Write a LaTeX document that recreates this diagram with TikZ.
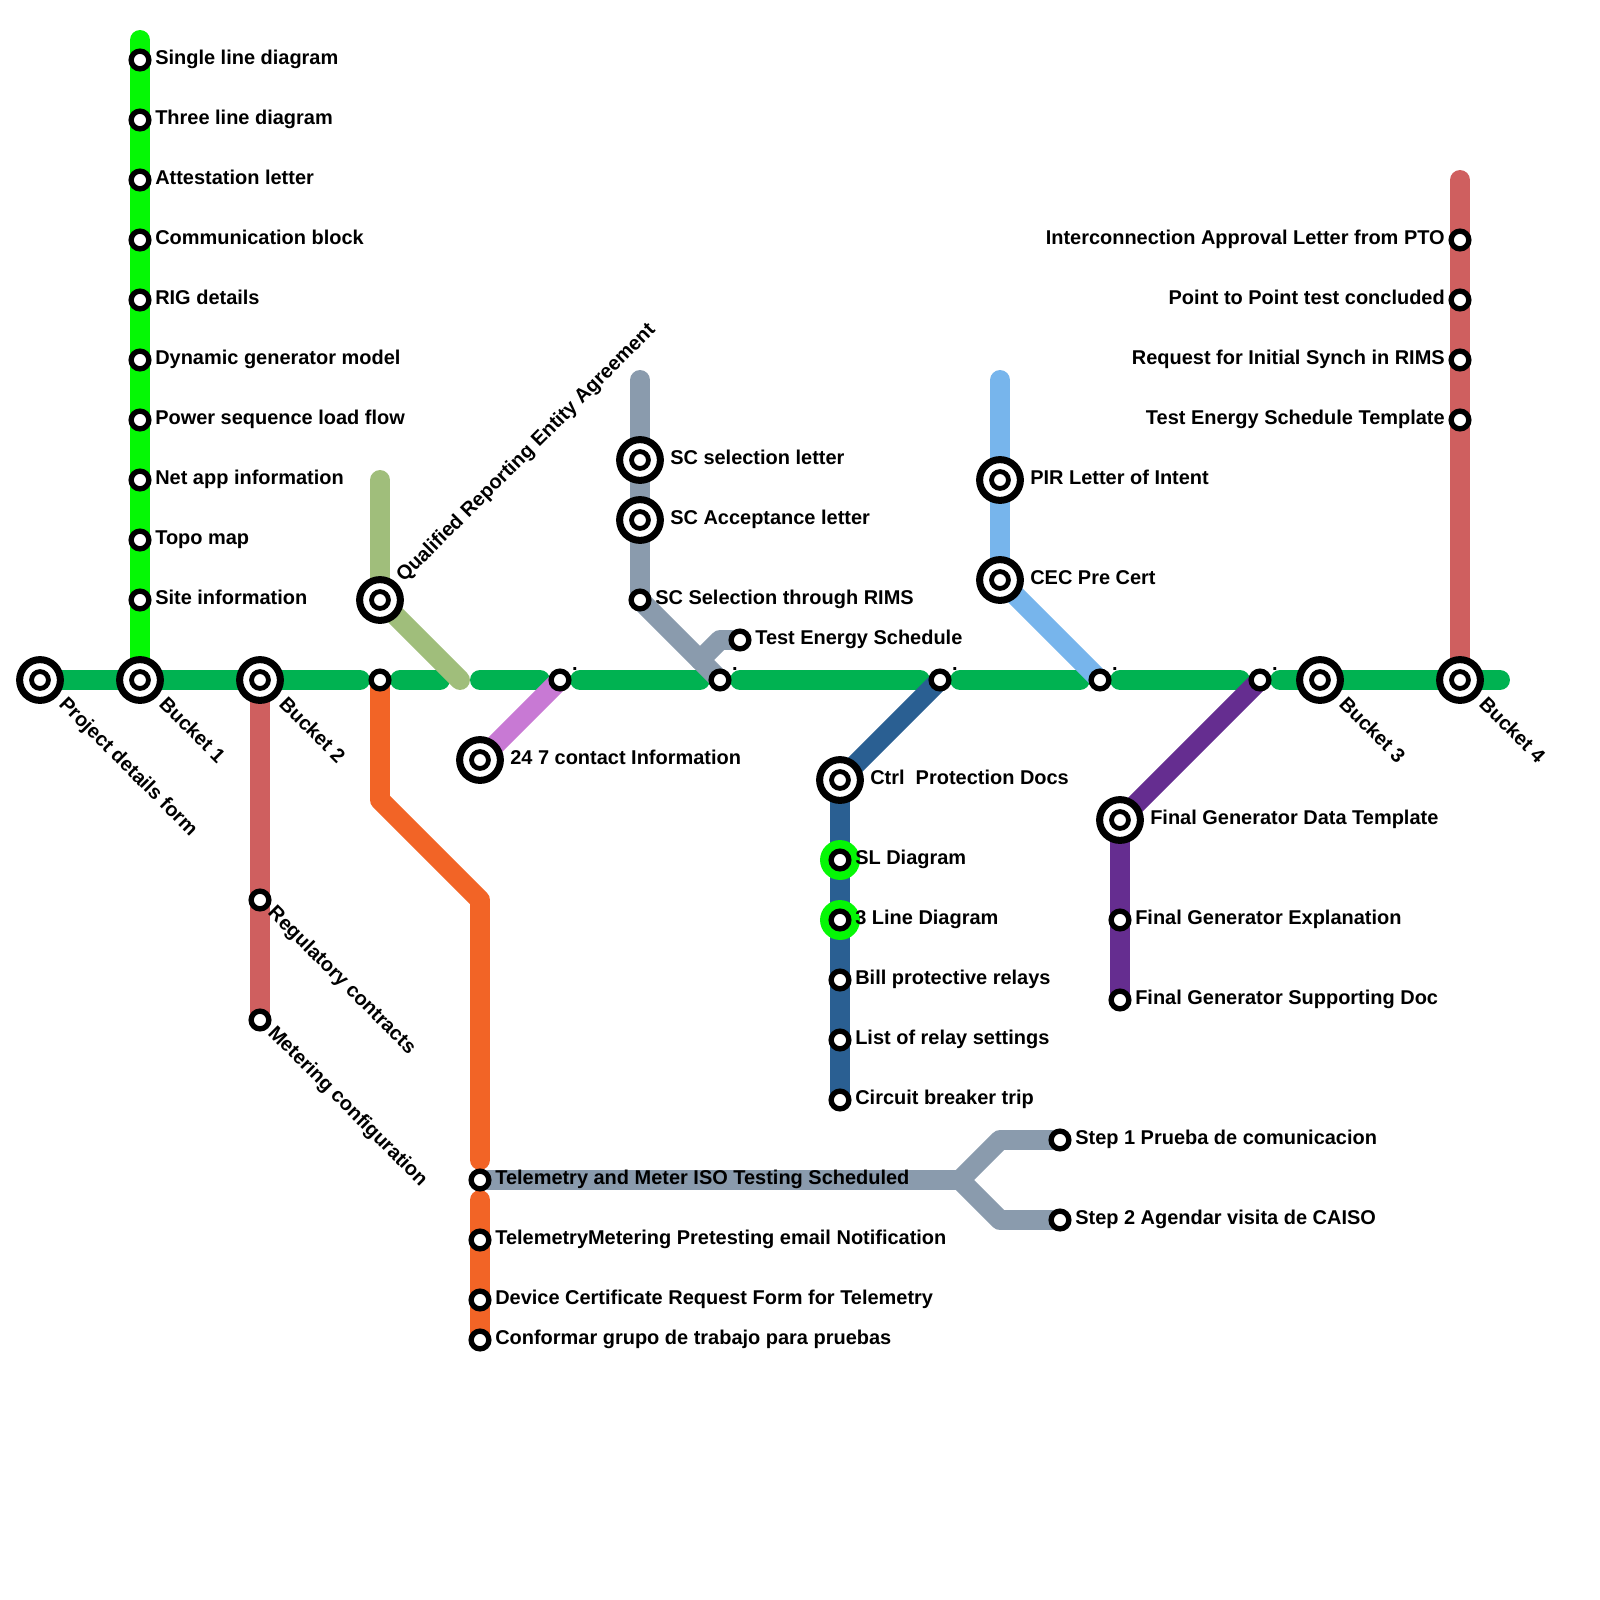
\documentclass[tikz,border=0pt]{standalone}
\usepackage{fontspec}
\usepackage{xcolor}
\usepackage{tikz}
\usetikzlibrary{positioning,calc,backgrounds}
\setmainfont{Liberation Sans}[BoldFont={Liberation Sans Bold}]
\definecolor{mainln}{HTML}{00B251}
\definecolor{limeln}{HTML}{05F805}
\definecolor{redln}{HTML}{CF5F5F}
\definecolor{orangeln}{HTML}{F26426}
\definecolor{grayln}{HTML}{8A9BAD}
\definecolor{skyln}{HTML}{77B5EC}
\definecolor{navyln}{HTML}{2A5F92}
\definecolor{violetln}{HTML}{652D90}
\definecolor{pinkln}{HTML}{C879D4}
\definecolor{oliveln}{HTML}{A0BE7B}
\tikzset{
  route/.style={line width=14.18pt,line cap=round,line join=round},
  stopmark/.style={circle,draw=black,fill=white,line width=3.8pt,minimum size=12.6pt,inner sep=0pt},
  hubmark/.style={circle,draw=black,fill=white,line width=5pt,minimum size=29pt,inner sep=0pt},
  coremark/.style={circle,draw=black,fill=white,line width=3.4pt,minimum size=12pt,inner sep=0pt},
  halomark/.style={circle,fill=limeln,minimum size=28.4pt,inner sep=0pt},
  lbl/.style={font=\fontsize{14.2}{17}\selectfont\bfseries,inner sep=0pt,text=black},
}
\begin{document}
\begin{tikzpicture}[x=0.5cm,y=-0.5cm]
\useasboundingbox (0,0) rectangle (80,80);
% interchange stations
\foreach \nm/\x/\y in {pdf/2/34,bkone/7/34,bktwo/13/34,bkthree/66/34,bkfour/73/34,qre/19/30,cont/24/38,
  scsel/32/23,scacc/32/26,pir/50/24,cec/50/29,ctrl/42/39,fgdt/56/41}{
  \node[hubmark] (\nm-o) at (\x,\y) {};
  \node[coremark] (\nm) at (\x,\y) {};
}
\node[halomark] (sl-h) at (42,43) {};
\node[halomark] (tl-h) at (42,46) {};
% plain stations
\foreach \nm/\x/\y in {sld/7/3,tld/7/6,att/7/9,com/7/12,rig/7/15,dyn/7/18,pow/7/21,net/7/24,topo/7/27,site/7/30,
  reg/13/45,met/13/51,jq/19/34,jc/28/34,jt/36/34,jd/47/34,jp/55/34,jf/63/34,
  tele/24/59,tmp/24/62,dev/24/65,conf/24/67,stone/53/57,sttwo/53/61,
  scrim/32/30,tes/37/32,sl/42/43,tl/42/46,bill/42/49,rly/42/52,cbt/42/55,
  fge/56/46,fgs/56/50,iapp/73/12,ptp/73/15,rqs/73/18,tst/73/21}{
  \node[stopmark] (\nm) at (\x,\y) {};
}
% free ends
\foreach \nm/\x/\y in {ga/18/34,gb/20/34,gc/22/34,gd/24/34,ge/27/34,gf/29/34,gg/35/34,gh/37/34,gi/46/34,gj/48/34,
  gk/54/34,gl/56/34,gm/62/34,gn/64/34,go/75/34,limetop/7/2,olitop/19/24,olimid/23/34,
  orb/19/40,orc/24/45,ord/24/58,ore/24/60,grt/32/19,grb/35/33,grc/36/32,grk/48/59,gru/50/57,grl/50/61,
  skyt/50/19,redt/73/9}{
  \coordinate (\nm) at (\x,\y);
}
\begin{scope}[on background layer]
\foreach \a/\b in {pdf/ga,gb/gc,gd/ge,gf/gg,gh/gi,gj/gk,gl/gm,gn/go}{
  \draw[route,mainln] (\a) -- (\b);
}
\draw[route,limeln] (limetop) -- (bkone.center);
\draw[route,redln] (bktwo.center) -- (met.center);
\draw[route,redln] (redt) -- (bkfour.center);
\draw[route,oliveln] (olitop) -- (qre.center) -- (olimid);
\draw[route,pinkln] (jc.center) -- (cont.center);
\draw[route,orangeln] (jq.center) -- (orb) -- (orc) -- (ord);
\draw[route,orangeln] (ore) -- (conf.center);
\draw[route,grayln] (tele.center) -- (grk) -- (gru) -- (stone.center);
\draw[route,grayln] (grk) -- (grl) -- (sttwo.center);
\draw[route,grayln] (grt) -- (scrim.center) -- (jt.center);
\draw[route,grayln] (grb) -- (grc) -- (tes.center);
\draw[route,skyln] (skyt) -- (cec.center) -- (jp.center);
\draw[route,navyln] (jd.center) -- (ctrl.center) -- (cbt.center);
\draw[route,violetln] (jf.center) -- (fgdt.center) -- (fgs.center);
\end{scope}
% labels to the right
\foreach \nm/\off/\lab in {sld/0.75/Single line diagram,tld/0.75/Three line diagram,att/0.75/Attestation letter,
  com/0.75/Communication block,rig/0.75/RIG details,dyn/0.75/Dynamic generator model,pow/0.75/Power sequence load flow,
  net/0.75/Net app information,topo/0.75/Topo map,site/0.75/Site information,cont/1.5/24 7 contact Information,
  scsel/1.5/SC selection letter,scacc/1.5/SC Acceptance letter,scrim/0.75/SC Selection through RIMS,tes/0.75/Test Energy Schedule,
  pir/1.5/PIR Letter of Intent,cec/1.5/CEC Pre Cert,ctrl/1.5/Ctrl~~Protection Docs,sl/0.75/SL Diagram,tl/0.75/3 Line Diagram,
  bill/0.75/Bill protective relays,rly/0.75/List of relay settings,cbt/0.75/Circuit breaker trip,
  fgdt/1.5/Final Generator Data Template,fge/0.75/Final Generator Explanation,fgs/0.75/Final Generator Supporting Doc,
  tele/0.75/Telemetry and Meter ISO Testing Scheduled,tmp/0.75/TelemetryMetering Pretesting email Notification,
  dev/0.75/Device Certificate Request Form for Telemetry,conf/0.75/Conformar grupo de trabajo para pruebas,
  stone/0.75/Step 1 Prueba de comunicacion,sttwo/0.75/Step 2 Agendar visita de CAISO}{
  \node[lbl,anchor=base west] (\nm-t) at ($(\nm)+(\off,0.24)$) {\lab};
}
% labels to the left
\foreach \nm/\lab in {iapp/Interconnection Approval Letter from PTO,ptp/Point to Point test concluded,
  rqs/Request for Initial Synch in RIMS,tst/Test Energy Schedule Template}{
  \node[lbl,anchor=base east] (\nm-t) at ($(\nm)+(-0.75,0.24)$) {\lab};
}
% slanted labels
\foreach \nm/\dx/\dy/\lab in {pdf/0.9/1.25/Project details form,bkone/0.9/1.25/Bucket 1,bktwo/0.9/1.25/Bucket 2,
  bkthree/0.9/1.25/Bucket 3,bkfour/0.9/1.25/Bucket 4,reg/0.35/0.68/Regulatory contracts,met/0.35/0.7/Metering configuration}{
  \node[lbl,rotate=-45,anchor=base west] (\nm-t) at ($(\nm)+(\dx,\dy)$) {\lab};
}
\node[lbl,rotate=45,anchor=base west] (qre-t) at ($(qre)+(1.2,-0.85)$) {Qualified Reporting Entity Agreement};
% dummy dots
\foreach \nm in {jc,jt,jd,jp,jf}{
  \node[lbl,anchor=base] (\nm-t) at ($(\nm)+(0.75,-0.5)$) {.};
}
\end{tikzpicture}
\end{document}
